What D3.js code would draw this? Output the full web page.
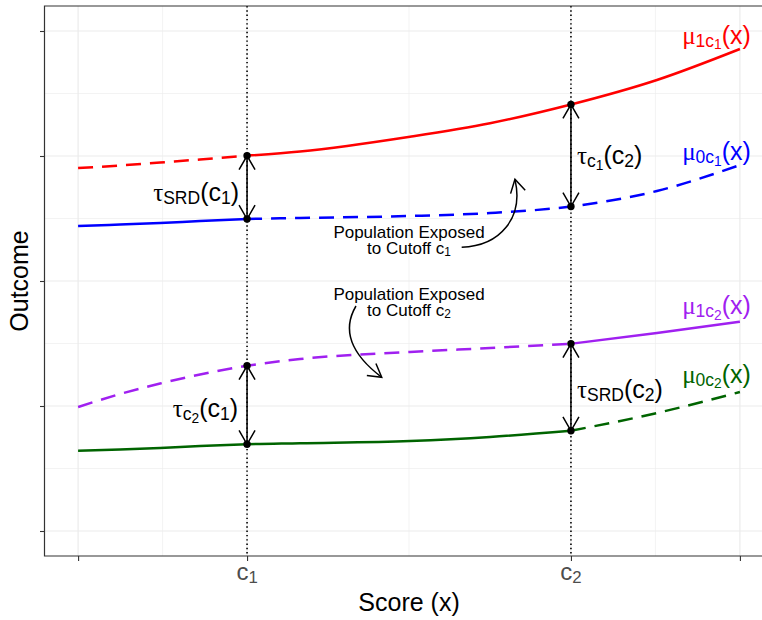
<!DOCTYPE html>
<html><head><meta charset="utf-8">
<script src="https://cdn.jsdelivr.net/npm/d3@7"></script>
<style>
body{margin:0;background:#fff}
svg{display:block}
text{font-family:"Liberation Sans",Arial,Helvetica,sans-serif}
</style>
</head><body>
<svg id="chart" width="762" height="620"></svg>
<script>
// ---------------- data ----------------
const c1 = 0.2553, c2 = 0.7447;
const scoreGrid = [0, 0.0634, 0.1239, 0.1843, 0.2553, 0.3353, 0.5015, 0.6224, 0.7447, 0.8746, 1.0];
const mu1c1 = [2.904, 2.924, 2.948, 2.972, 3.002, 3.036, 3.154, 3.262, 3.412, 3.608, 3.856];
const mu0c1 = [2.440, 2.452, 2.464, 2.480, 2.496, 2.504, 2.520, 2.544, 2.596, 2.720, 2.928];
const mu1c2 = [0.992, 1.096, 1.180, 1.252, 1.322, 1.376, 1.432, 1.464, 1.498, 1.584, 1.674];
const mu0c2 = [0.642, 0.652, 0.664, 0.680, 0.694, 0.702, 0.720, 0.752, 0.802, 0.944, 1.112];
const xTicks = [0, c1, c2, 1];
const xTickLabels = ["", "c_1", "c_2", ""];
const yTicks = [0, 1, 2, 3, 4];
const yTickLabels = ["", "", "", "", ""];
const curveNames = ["μ_{1c_{1}}(x)", "μ_{0c_{1}}(x)", "μ_{1c_{2}}(x)", "μ_{0c_{2}}(x)"];
const curveColors = ["#FF0000", "#0000FF", "#A020F0", "#006400"];
// segment dashed where the curve is counterfactual: [x from, x to]
const dashedRanges = [[0, c1], [c1, 1], [0, c2], [c2, 1]];
// labels at (x, y) in data units
const curveLabelPos = [[1.0166, 3.90], [1.0166, 2.965], [1.0166, 1.735], [1.0166, 1.185]];
const tauLabels = ["τ_{SRD}(c_{1})", "τ_{c_{2}}(c_{1})", "τ_{c_{1}}(c_{2})", "τ_{SRD}(c_{2})"];
const tauPos = [[0.2432, 2.642, "end"], [0.2417, 0.912, "end"], [0.7538, 2.936, "start"], [0.7538, 1.066, "start"]];
const popLines1 = ["Population Exposed", "to Cutoff c_{1}"];
const popLines2 = ["Population Exposed", "to Cutoff c_{2}"];
const popPos = [[0.5, 2.344], [0.5, 1.852]];

// ---------------- setup ----------------
const svg = d3.select("#chart");
const W = 762, H = 620;
svg.append("rect").attr("width", W).attr("height", H).attr("fill", "#fff");
const x = d3.scaleLinear().domain([-0.05, 1.05]).range([45, 773]);
const y = d3.scaleLinear().domain([-0.2, 4.2]).range([556, 6]);
const SANS = '"Liberation Sans", Arial, sans-serif';
const SERIF = '"Liberation Serif", "Times New Roman", serif';

// parse simple math markup: a_b, a_{...}
function parseMath(str) {
  const out = [];
  function rec(s, lvl) {
    let i = 0;
    while (i < s.length) {
      const ch = s[i];
      if (ch === "_") {
        if (s[i + 1] === "{") {
          let depth = 1, j = i + 2;
          while (j < s.length && depth > 0) { if (s[j] === "{") depth++; else if (s[j] === "}") depth--; j++; }
          rec(s.slice(i + 2, j - 1), lvl + 1);
          i = j;
        } else { rec(s[i + 1], lvl + 1); i += 2; }
      } else { out.push({ t: ch, lvl, greek: /[\u0370-\u03FF]/.test(ch) }); i++; }
    }
  }
  rec(str, 0);
  const merged = [];
  out.forEach(p => {
    const last = merged[merged.length - 1];
    if (last && last.lvl === p.lvl && last.greek === p.greek) last.t += p.t; else merged.push({ ...p });
  });
  return merged;
}
// writes lines (array of markup strings) into one text element; each line re-anchored at px
function mathText(g, px, py, lines, size, color, anchor, lineGap) {
  if (!Array.isArray(lines)) lines = [lines];
  const t = g.append("text").attr("x", px).attr("y", py).attr("fill", color)
    .attr("text-anchor", anchor).attr("font-size", size);
  let cur = 0;
  lines.forEach((ln, li) => {
    parseMath(ln).forEach((p, pi) => {
      const s = size * [1, 0.7, 0.55][Math.min(p.lvl, 2)];
      const shift = [0, 0.12, 0.22][Math.min(p.lvl, 2)] * size + li * (lineGap || 0);
      const ts = t.append("tspan").attr("dy", shift - cur).attr("font-size", s)
        .attr("font-family", p.greek ? SERIF : SANS).text(p.t);
      if (pi === 0 && li > 0) ts.attr("x", px);
      cur = shift;
    });
  });
  return t;
}
function arrowHead(g, tipX, tipY, dirX, dirY, len, ang) {
  const a = Math.atan2(dirY, dirX);
  const p1 = [tipX - len * Math.cos(a - ang), tipY - len * Math.sin(a - ang)];
  const p2 = [tipX - len * Math.cos(a + ang), tipY - len * Math.sin(a + ang)];
  g.append("path").attr("d", `M${p1[0]},${p1[1]}L${tipX},${tipY}L${p2[0]},${p2[1]}`)
    .attr("fill", "none").attr("stroke", "#000").attr("stroke-width", 1.5).attr("stroke-linejoin", "miter");
}

// ---------------- panel / grid ----------------
const grid = svg.append("g");
const xMinor = xTicks.slice(1).map((v, i) => (v + xTicks[i]) / 2);
const yMinor = yTicks.slice(1).map((v, i) => (v + yTicks[i]) / 2);
grid.selectAll(".xmin").data(xMinor).join("line")
  .attr("x1", d => x(d)).attr("x2", d => x(d)).attr("y1", 6).attr("y2", 556)
  .attr("stroke", "#EBEBEB").attr("stroke-width", 0.6);
grid.selectAll(".ymin").data(yMinor).join("line")
  .attr("x1", 45).attr("x2", 773).attr("y1", d => y(d)).attr("y2", d => y(d))
  .attr("stroke", "#EBEBEB").attr("stroke-width", 0.6);
grid.selectAll(".xmaj").data(xTicks).join("line")
  .attr("x1", d => x(d)).attr("x2", d => x(d)).attr("y1", 6).attr("y2", 556)
  .attr("stroke", "#EBEBEB").attr("stroke-width", 1.2);
grid.selectAll(".ymaj").data(yTicks).join("line")
  .attr("x1", 45).attr("x2", 773).attr("y1", d => y(d)).attr("y2", d => y(d))
  .attr("stroke", "#EBEBEB").attr("stroke-width", 1.2);

// cutoff dotted lines
svg.append("g").selectAll("line").data([c1, c2]).join("line")
  .attr("x1", d => x(d)).attr("x2", d => x(d)).attr("y1", 6).attr("y2", 556)
  .attr("stroke", "#000").attr("stroke-width", 1.6).attr("stroke-dasharray", "1.4,2.9");

// ---------------- curves ----------------
const seriesVals = [mu1c1, mu0c1, mu1c2, mu0c2];
const line = d3.line().x(d => x(d[0])).y(d => y(d[1])).curve(d3.curveMonotoneX);
const curvesG = svg.append("g");
seriesVals.forEach((vals, i) => {
  const pts = scoreGrid.map((s, k) => [s, vals[k]]);
  const [a, b] = dashedRanges[i];
  const eps = 1e-6;
  const dashed = pts.filter(p => p[0] >= a - eps && p[0] <= b + eps);
  const solidPieces = [];
  let cur = [];
  pts.forEach(p => {
    const inside = p[0] > a + eps && p[0] < b - eps;
    if (inside) { if (cur.length) solidPieces.push(cur); cur = []; }
    else cur.push(p);
  });
  if (cur.length) solidPieces.push(cur);
  solidPieces.filter(pc => pc.length > 1).forEach(pc => {
    curvesG.append("path").attr("d", line(pc)).attr("fill", "none")
      .attr("stroke", curveColors[i]).attr("stroke-width", 2.5);
  });
  curvesG.append("path").attr("d", line(dashed)).attr("fill", "none")
    .attr("stroke", curveColors[i]).attr("stroke-width", 2.5).attr("stroke-dasharray", "15,9");
});

// ---------------- double arrows at cutoffs ----------------
const valAt = (vals, c) => vals[scoreGrid.findIndex(s => Math.abs(s - c) < 1e-6)];
const arrowPairs = [[mu1c1, mu0c1, c1], [mu1c2, mu0c2, c1], [mu1c1, mu0c1, c2], [mu1c2, mu0c2, c2]];
const arrG = svg.append("g");
arrowPairs.forEach(([top, bot, c]) => {
  const px = x(c), y1 = y(valAt(top, c)), y2 = y(valAt(bot, c));
  arrG.append("line").attr("x1", px).attr("x2", px).attr("y1", y1).attr("y2", y2)
    .attr("stroke", "#000").attr("stroke-width", 1.5);
  arrowHead(arrG, px, y1, 0, -1, 16, Math.PI / 6);
  arrowHead(arrG, px, y2, 0, 1, 16, Math.PI / 6);
  [y1, y2].forEach(yy => arrG.append("circle").attr("cx", px).attr("cy", yy).attr("r", 3.7).attr("fill", "#000"));
});

// ---------------- curved arrows ----------------
function curvedArrow(p0, cA, cB, p3) {
  const P = [p0, cA, cB, p3].map(p => [x(p[0]), y(p[1])]);
  arrG.append("path").attr("d", `M${P[0]}C${P[1]} ${P[2]} ${P[3]}`)
    .attr("fill", "none").attr("stroke", "#000").attr("stroke-width", 1.5);
  arrowHead(arrG, P[3][0], P[3][1], P[3][0] - P[2][0], P[3][1] - P[2][1], 15, Math.PI / 6);
}
curvedArrow([0.5796, 2.2696], [0.6375, 2.2800], [0.6737, 2.5040], [0.6601, 2.8136]);
curvedArrow([0.4199, 1.8000], [0.3958, 1.5840], [0.4184, 1.3920], [0.4588, 1.2296]);

// ---------------- labels ----------------
const labG = svg.append("g");
curveNames.forEach((nm, i) => {
  mathText(labG, x(curveLabelPos[i][0]), y(curveLabelPos[i][1]), nm, 25, curveColors[i], "end");
});
tauLabels.forEach((nm, i) => {
  mathText(labG, x(tauPos[i][0]), y(tauPos[i][1]), nm, 25, "#000", tauPos[i][2]);
});
[popLines1, popLines2].forEach((lines, i) => {
  mathText(labG, x(popPos[i][0]), y(popPos[i][1]), lines, 17, "#000", "middle", 16);
});

// ---------------- axes ----------------
const axG = svg.append("g");
axG.append("g").attr("transform", "translate(0,556)")
  .call(d3.axisBottom(x).tickValues(xTicks).tickSize(5).tickFormat(""))
  .call(g => g.select(".domain").remove())
  .call(g => g.selectAll("line").attr("stroke", "#333333").attr("stroke-width", 1.1));
axG.append("g").attr("transform", "translate(45,0)")
  .call(d3.axisLeft(y).tickValues(yTicks).tickSize(5).tickFormat((d, i) => yTickLabels[i]))
  .call(g => g.select(".domain").remove())
  .call(g => g.selectAll("line").attr("stroke", "#333333").attr("stroke-width", 1.1));
xTicks.forEach((v, i) => {
  if (xTickLabels[i]) mathText(axG, x(v), 580, xTickLabels[i], 24, "#4D4D4D", "middle");
});
// panel border (top, left, bottom; right is beyond canvas)
axG.append("path").attr("d", "M773,6H44.5V556H773").attr("fill", "none")
  .attr("stroke", "#333333").attr("stroke-width", 1.2);

// axis titles
svg.append("text").attr("x", 409).attr("y", 611).attr("text-anchor", "middle")
  .attr("font-size", 25).attr("fill", "#000").text("Score (x)");
svg.append("text").attr("transform", "translate(28,281) rotate(-90)").attr("text-anchor", "middle")
  .attr("font-size", 25).attr("fill", "#000").text("Outcome");
</script>
</body></html>
